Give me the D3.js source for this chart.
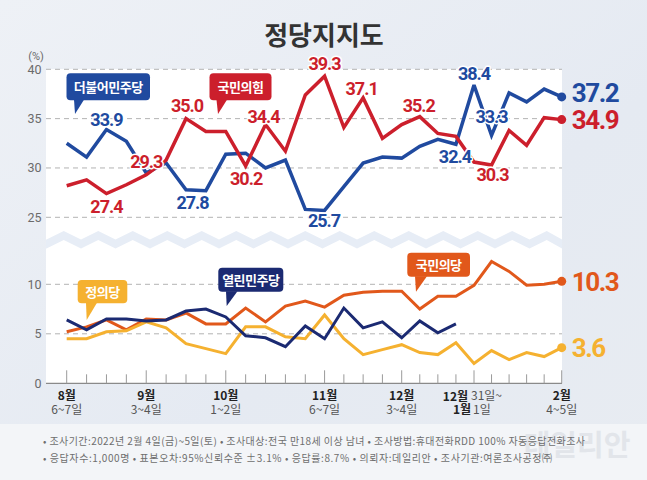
<!DOCTYPE html>
<html><head><meta charset="utf-8">
<script src="https://cdn.jsdelivr.net/npm/d3@7"></script>
<style>body{margin:0;background:#fff}svg{display:block}</style>
</head><body>
<script>
// ---- data ----
const weeks = ["8/6","8/13","8/20","8/27","9/3","9/10","9/17","9/24","10/1","10/8","10/15","10/22","10/29",
  "11/6","11/12","11/19","11/26","12/3","12/10","12/17","12/24","12/31","1/7","1/14","1/21","1/28","2/4"];
const minjoo      = [32.5,31.1,33.9,32.7,29.5,30.5,27.8,27.7,31.4,31.5,30.0,30.8,25.8,25.7,28.1,30.5,31.1,31.0,32.2,32.9,32.4,38.4,33.3,37.6,36.7,38.0,37.2];
const peoplePower = [28.2,28.8,27.4,28.3,29.3,30.8,35.0,33.7,33.7,30.2,34.4,31.7,37.4,39.3,34.1,37.1,33.0,34.4,35.2,33.5,33.2,30.6,30.3,33.8,32.3,35.1,34.9];
const peopleParty = [5.2,5.7,6.4,5.4,6.5,6.4,7.1,6.0,6.0,7.6,6.2,7.8,8.3,7.7,8.9,9.2,9.3,9.3,7.5,8.8,8.8,9.9,12.3,11.3,9.9,10.0,10.3];
const justice     = [4.5,4.5,5.2,5.3,6.2,5.6,4.0,3.5,3.0,5.7,5.7,4.7,4.5,6.9,4.5,2.9,3.4,3.9,3.1,2.9,4.1,2.0,3.3,2.4,3.1,2.7,3.6];
const openMinjoo  = [6.4,5.4,6.5,6.5,6.3,6.4,7.3,7.5,6.7,4.8,4.6,3.7,5.8,4.5,7.6,5.6,6.2,4.6,6.3,5.1,6.0];
const upperTicks = [25,30,35,40];
const lowerTicks = [0,5,10];
const tickIdx   = [0,4,8,13,17,21,26];
const tickMonth = ["8월","9월","10월","11월","12월","12월","2월"];
const tickDay   = ["6~7일","3~4일","1~2일","6~7일","3~4일","31일~","4~5일"];
const partyNames = ["더불어민주당","국민의힘","국민의당","정의당","열린민주당"];

// ---- styles / layout ----
const W=647,H=480;
const C = {minjoo:"#204a9f", ppp:"#cc1f2c", pp:"#e1581b", justice:"#f5b130", open:"#1b2a72"};
const svg = d3.select("body").append("svg").attr("width",W).attr("height",H);
const KR = "'Noto Sans CJK KR','Noto Sans',sans-serif";
const NUM = "Roboto,'Liberation Sans',sans-serif";

const defs = svg.append("defs");
const g1 = defs.append("linearGradient").attr("id","bg").attr("x1",0).attr("y1",0).attr("x2",1).attr("y2",1);
g1.append("stop").attr("offset","0").attr("stop-color","#eef1f6");
g1.append("stop").attr("offset","0.6").attr("stop-color","#e5eaf2");
g1.append("stop").attr("offset","1").attr("stop-color","#e8ecf2");
svg.append("rect").attr("width",W).attr("height",H).attr("fill","url(#bg)");
svg.append("rect").attr("x",0).attr("y",424).attr("width",W).attr("height",56).attr("fill","#f3f5f8");

const x = d3.scaleLinear().domain([0,12,17,21,26]).range([66.7,305.3,401.7,474,561.7]);
const yU = d3.scaleLinear().domain([25,40]).range([217.3,69.3]);
const yL = d3.scaleLinear().domain([0,10]).range([383.3,284.3]);
const PL=46, PR=562, PT=69, PB=383.3;

svg.append("rect").attr("x",PL).attr("y",PT).attr("width",PR-PL).attr("height",PB-PT).attr("fill","#fff");

// break band
(function(){
  const per=34.5, x0=46.5, topV=239.5, amp=8.5, th=9;
  const top=[]; let k=0;
  for(let xx=x0; xx<=PR+per; xx+=per/2, k++){
    const cx=Math.min(xx,PR);
    top.push([cx, k%2===0?topV:topV-amp]);
    if(xx>=PR) break;
  }
  top.unshift([PL, topV]);
  const bot = top.slice().reverse().map(p=>[p[0],p[1]+th]);
  svg.append("path").attr("d","M"+top.concat(bot).map(p=>p.join(",")).join("L")+"Z").attr("fill","#e7edf6");
})();

// grid
const grid = svg.append("g").attr("stroke","#b3b3b3").attr("stroke-dasharray","5,4").attr("stroke-width",1);
upperTicks.forEach(t=>grid.append("line").attr("x1",PL).attr("x2",PR).attr("y1",yU(t)).attr("y2",yU(t)));
lowerTicks.filter(t=>t>0).forEach(t=>grid.append("line").attr("x1",PL).attr("x2",PR).attr("y1",yL(t)).attr("y2",yL(t)));

// y labels
const yl = svg.append("g").attr("font-family",NUM).attr("font-size",12.5).attr("fill","#6b6b6b").attr("text-anchor","end");
upperTicks.forEach(t=>yl.append("text").attr("x",41.5).attr("y",yU(t)).attr("dy","0.35em").text(t));
lowerTicks.forEach(t=>yl.append("text").attr("x",41.5).attr("y",yL(t)).attr("dy","0.35em").text(t));
svg.append("text").attr("x",36).attr("y",56).attr("dy","0.35em").attr("text-anchor","middle").attr("font-family",NUM).attr("font-size",11).attr("fill","#6b6b6b").text("(%)");

// x axis
svg.append("line").attr("x1",PL).attr("x2",PR).attr("y1",PB).attr("y2",PB).attr("stroke","#8a8a8a").attr("stroke-width",1.2);
const tg = svg.append("g").attr("stroke","#9a9a9a").attr("stroke-width",1);
weeks.forEach((w,i)=>{
  const major = tickIdx.includes(i);
  tg.append("line").attr("x1",x(i)).attr("x2",x(i)).attr("y1",PB).attr("y2",PB-(major?13:9));
});
const xl = svg.append("g").attr("font-family",KR);
tickIdx.forEach((i,k)=>{
  if(i===21){
    const t1 = xl.append("text").attr("y",394.5).attr("dominant-baseline","central").attr("font-size",12);
    t1.append("tspan").attr("x",x(i)-6).attr("text-anchor","end").attr("font-weight",700).attr("fill","#222").text(tickMonth[k]);
    xl.append("text").attr("x",x(i)-3).attr("y",394.5).attr("dominant-baseline","central").attr("font-size",12).attr("fill","#555").text(tickDay[k]);
    xl.append("text").attr("x",x(i)-3).attr("y",408).attr("text-anchor","end").attr("dominant-baseline","central").attr("font-size",12).attr("font-weight",700).attr("fill","#222").text("1월");
    xl.append("text").attr("x",x(i)-1).attr("y",408).attr("dominant-baseline","central").attr("font-size",12).attr("fill","#555").text("1일");
  } else {
    xl.append("text").attr("x",x(i)).attr("y",394.5).attr("text-anchor","middle").attr("dominant-baseline","central").attr("font-size",12).attr("font-weight",700).attr("fill","#222").text(tickMonth[k]);
    xl.append("text").attr("x",x(i)).attr("y",408).attr("text-anchor","middle").attr("dominant-baseline","central").attr("font-size",12).attr("fill","#555").text(tickDay[k]);
  }
});

// lines
function drawLine(data, y, color, w){
  svg.append("path").datum(data).attr("fill","none").attr("stroke",color).attr("stroke-width",w)
    .attr("stroke-linejoin","miter").attr("stroke-miterlimit",3)
    .attr("d",d3.line().x((d,i)=>x(i)).y(d=>y(d)));
}
drawLine(peopleParty,yL,C.pp,3);
drawLine(justice,yL,C.justice,3);
drawLine(openMinjoo,yL,C.open,3);
drawLine(minjoo,yU,C.minjoo,3.5);
drawLine(peoplePower,yU,C.ppp,3.5);

// end dots & labels
const ends = [
  {d:minjoo,y:yU,c:C.minjoo,dy:-4.4},
  {d:peoplePower,y:yU,c:C.ppp,dy:0},
  {d:peopleParty,y:yL,c:C.pp,dy:0},
  {d:justice,y:yL,c:C.justice,dy:0}
];
ends.forEach(e=>{
  const i=e.d.length-1;
  svg.append("circle").attr("cx",x(i)).attr("cy",e.y(e.d[i])).attr("r",4.5).attr("fill",e.c);
  svg.append("text").attr("x",x(i)+10).attr("y",e.y(e.d[i])+e.dy).attr("dy","0.36em")
    .attr("font-family",NUM).attr("font-weight",700).attr("font-size",26).attr("letter-spacing",-1.4)
    .attr("fill",e.c).text(e.d[i].toFixed(1));
});

// point labels
const S = {minjoo:{d:minjoo,y:yU,c:C.minjoo}, ppp:{d:peoplePower,y:yU,c:C.ppp}};
const annots = [
  ["minjoo",2,0,-3],["ppp",2,0,19],["ppp",4,0,-7],["ppp",6,1,-6.5],["minjoo",6,6.5,19.5],
  ["ppp",9,0.5,19],["ppp",10,-2,-1.5],["ppp",13,0,-6],["minjoo",13,-0.5,17],["ppp",15,-1.5,-3],
  ["ppp",18,-1,-4.5],["minjoo",20,-1,18.5],["minjoo",21,0,-5],["minjoo",22,0,-12.5],["ppp",22,1,16]
];
const lab = svg.append("g").attr("font-family",NUM).attr("font-weight",700).attr("font-size",18).attr("letter-spacing",-1).attr("text-anchor","middle");
annots.forEach(([s,i,dx,dy])=>{
  const ser=S[s];
  lab.append("text").attr("x",x(i)+dx).attr("y",ser.y(ser.d[i])+dy)
    .attr("fill",ser.c).attr("stroke","#fff").attr("stroke-width",3).attr("paint-order","stroke").attr("stroke-linejoin","round")
    .text(ser.d[i].toFixed(1));
});

// callout bubbles
const bubbles = [
  {t:partyNames[0],c:C.minjoo,x:66.5,y:73.3,w:83.5,h:27,tx:[74,84,75,114]},
  {t:partyNames[1],c:C.ppp,x:209.5,y:73.3,w:62,h:27,tx:[216.5,227,218,114]},
  {t:partyNames[2],c:C.pp,x:407.3,y:252.7,w:62.7,h:24,tx:[415,427,416,291.7]},
  {t:partyNames[3],c:C.justice,x:77.7,y:280,w:49.6,h:23.3,tx:[86,97,86.7,320]},
  {t:partyNames[4],c:C.open,x:218.3,y:267.7,w:65,h:24,tx:[226,237.5,226.7,306]}
];
bubbles.forEach(b=>{
  const g=svg.append("g");
  g.append("rect").attr("x",b.x).attr("y",b.y).attr("width",b.w).attr("height",b.h).attr("rx",4).attr("fill",b.c);
  const [a1,a2,tx,ty]=b.tx, by=b.y+b.h-0.5;
  g.append("path").attr("d",`M${a1},${by}L${a2},${by}L${tx},${ty}Z`).attr("fill",b.c);
  g.append("text").attr("x",b.x+b.w/2).attr("y",b.y+b.h/2).attr("dominant-baseline","central").attr("text-anchor","middle")
    .attr("font-family",KR).attr("font-weight",700).attr("font-size",13).attr("letter-spacing",-0.5).attr("fill","#fff").text(b.t);
});

// title
svg.append("text").attr("x",324).attr("y",33.5).attr("dominant-baseline","central").attr("text-anchor","middle")
  .attr("font-family",KR).attr("font-weight",700).attr("font-size",26).attr("fill","#333").text("정당지지도");

// watermark
svg.append("text").attr("x",577).attr("y",443).attr("dominant-baseline","central").attr("text-anchor","middle")
  .attr("font-family",KR).attr("font-weight",700).attr("font-size",29).attr("fill","#e2e5ea").text("데일리안");

// footnotes
const fn = svg.append("g").attr("font-family",KR).attr("font-size",10).attr("fill","#6e6e6e");
fn.append("text").attr("x",43).attr("y",440).attr("dominant-baseline","central").attr("textLength",542).attr("lengthAdjust","spacing")
  .text("• 조사기간:2022년 2월 4일(금)~5일(토)  • 조사대상:전국 만18세 이상 남녀  • 조사방법:휴대전화RDD 100% 자동응답전화조사");
fn.append("text").attr("x",43).attr("y",457).attr("dominant-baseline","central").attr("textLength",509).attr("lengthAdjust","spacing")
  .text("• 응답자수:1,000명  • 표본오차:95%신뢰수준 ±3.1%  • 응답률:8.7%  • 의뢰자:데일리안  • 조사기관:여론조사공정㈜");
</script>
</body></html>
